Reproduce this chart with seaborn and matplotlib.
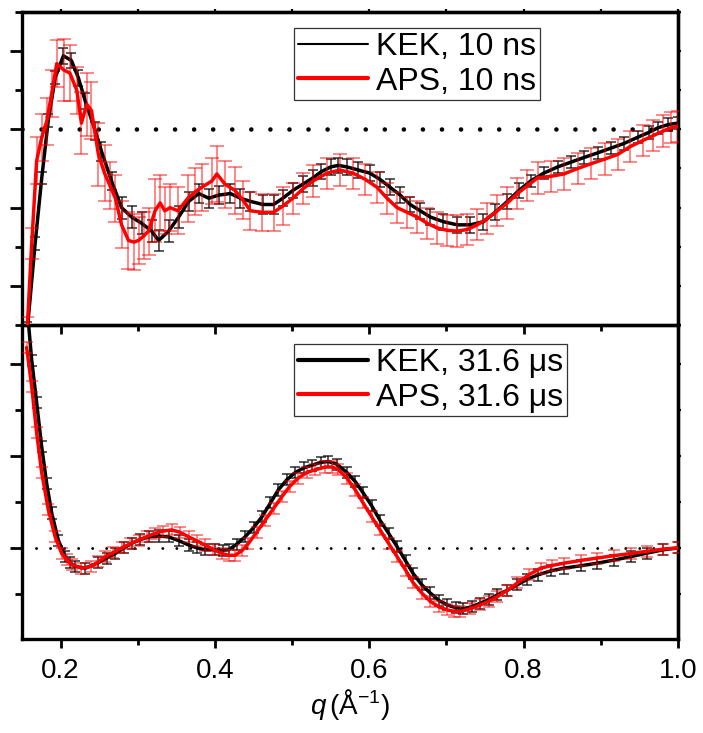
import matplotlib
matplotlib.use("Agg")
import numpy as np
import pandas as pd
import matplotlib.pyplot as plt
import seaborn as sns
from matplotlib.lines import Line2D
from matplotlib.ticker import MultipleLocator

# ---------------- data ----------------
# top panel, 10 ns
kek10_q = [0.157, 0.167, 0.1756, 0.184, 0.193, 0.2036, 0.214, 0.223, 0.232, 0.245, 0.253, 0.266,
           0.279, 0.292, 0.305, 0.318, 0.327, 0.34, 0.353, 0.366, 0.379, 0.392, 0.405, 0.42, 0.433,
           0.446, 0.462, 0.476, 0.488, 0.501, 0.514, 0.527, 0.538, 0.55, 0.56, 0.571, 0.586, 0.601,
           0.614, 0.627, 0.64, 0.653, 0.666, 0.679, 0.696, 0.714, 0.731, 0.748, 0.763, 0.779, 0.794,
           0.809, 0.826, 0.844, 0.861, 0.878, 0.896, 0.913, 0.93, 0.948, 0.962, 0.974, 0.987, 1.0]
kek10_y = [-1.27, -0.73, -0.31, 0.056, 0.33, 0.47, 0.44, 0.33, 0.18, -0.01, -0.14, -0.33,
           -0.50, -0.56, -0.60, -0.65, -0.71, -0.65, -0.56, -0.46, -0.41, -0.44, -0.42, -0.41, -0.44,
           -0.46, -0.48, -0.48, -0.44, -0.39, -0.35, -0.31, -0.27, -0.24, -0.23, -0.24, -0.26, -0.28,
           -0.32, -0.37, -0.42, -0.48, -0.52, -0.56, -0.59, -0.61, -0.61, -0.59, -0.53, -0.46, -0.39,
           -0.33, -0.28, -0.24, -0.21, -0.18, -0.15, -0.12, -0.09, -0.05, -0.02, 0.01, 0.03, 0.04]
kek10_err = [0.04, 0.04, 0.04, 0.04, 0.04, 0.05, 0.05, 0.05, 0.05, 0.06, 0.06, 0.06,
             0.07, 0.07, 0.07, 0.07, 0.07, 0.07, 0.07, 0.06, 0.06, 0.06, 0.06, 0.06, 0.06,
             0.06, 0.06, 0.06, 0.05, 0.05, 0.05, 0.05, 0.05, 0.05, 0.05, 0.05, 0.05, 0.05,
             0.05, 0.05, 0.05, 0.05, 0.05, 0.05, 0.05, 0.05, 0.05, 0.05, 0.05, 0.05, 0.05,
             0.04, 0.04, 0.04, 0.04, 0.04, 0.04, 0.04, 0.04, 0.04, 0.04, 0.04, 0.04, 0.04]

aps10_q = [0.157, 0.1626, 0.169, 0.1756, 0.182, 0.1885, 0.195, 0.204, 0.212, 0.221, 0.227, 0.234,
           0.24, 0.249, 0.257, 0.264, 0.271, 0.279, 0.288, 0.295, 0.301, 0.308, 0.314, 0.3225,
           0.329, 0.335, 0.342, 0.352, 0.365, 0.374, 0.383, 0.396, 0.4025, 0.413, 0.426, 0.436,
           0.446, 0.461, 0.476, 0.488, 0.501, 0.514, 0.527, 0.545, 0.562, 0.579, 0.595, 0.61,
           0.623, 0.636, 0.649, 0.662, 0.675, 0.688, 0.701, 0.714, 0.727, 0.74, 0.753, 0.766,
           0.779, 0.792, 0.805, 0.818, 0.835, 0.852, 0.87, 0.887, 0.905, 0.922, 0.938, 0.955,
           0.968, 0.981, 0.991, 1.0]
aps10_y = [-1.25, -0.73, -0.20, -0.05, 0.05, 0.23, 0.42, 0.38, 0.36, 0.25, 0.04, 0.16,
           0.12, -0.16, -0.28, -0.36, -0.44, -0.61, -0.71, -0.72, -0.71, -0.68, -0.65, -0.52,
           -0.47, -0.52, -0.50, -0.52, -0.44, -0.40, -0.37, -0.33, -0.285, -0.35, -0.39, -0.45,
           -0.52, -0.53, -0.53, -0.49, -0.44, -0.38, -0.33, -0.28, -0.26, -0.28, -0.32, -0.37,
           -0.44, -0.50, -0.53, -0.56, -0.60, -0.63, -0.645, -0.65, -0.64, -0.61, -0.57, -0.52,
           -0.47, -0.41, -0.36, -0.31, -0.30, -0.285, -0.25, -0.22, -0.19, -0.16, -0.11, -0.07,
           -0.04, -0.01, 0.01, 0.02]
aps10_err = [0.05, 0.10, 0.15, 0.15, 0.15, 0.15, 0.15, 0.20, 0.18, 0.15, 0.20, 0.20,
             0.18, 0.20, 0.18, 0.15, 0.15, 0.15, 0.18, 0.18, 0.15, 0.15, 0.15, 0.20,
             0.18, 0.15, 0.15, 0.15, 0.15, 0.15, 0.15, 0.15, 0.18, 0.15, 0.15, 0.12,
             0.12, 0.12, 0.12, 0.12, 0.10, 0.10, 0.10, 0.10, 0.10, 0.10, 0.10, 0.10,
             0.10, 0.10, 0.10, 0.10, 0.10, 0.10, 0.10, 0.10, 0.10, 0.10, 0.10, 0.10,
             0.10, 0.10, 0.10, 0.10, 0.10, 0.10, 0.10, 0.10, 0.10, 0.10, 0.10, 0.10,
             0.10, 0.10, 0.10, 0.10]

# bottom panel, 31.6 us
kek31_q = [0.158, 0.1626, 0.169, 0.1755, 0.182, 0.1885, 0.197, 0.2058, 0.212, 0.219, 0.232, 0.249,
           0.26, 0.271, 0.282, 0.292, 0.303, 0.314, 0.327, 0.34, 0.353, 0.366, 0.377, 0.387, 0.40,
           0.41, 0.418, 0.428, 0.439, 0.45, 0.461, 0.472, 0.482, 0.493, 0.504, 0.515, 0.526, 0.537,
           0.547, 0.558, 0.571, 0.582, 0.592, 0.603, 0.614, 0.625, 0.636, 0.647, 0.657, 0.668,
           0.679, 0.69, 0.701, 0.712, 0.722, 0.733, 0.744, 0.755, 0.766, 0.779, 0.792, 0.805,
           0.818, 0.835, 0.852, 0.874, 0.895, 0.917, 0.939, 0.96, 0.981, 1.0]
kek31_y = [1.24, 1.02, 0.79, 0.55, 0.35, 0.19, 0.043, -0.047, -0.08, -0.10, -0.11, -0.08,
           -0.055, -0.03, 0.0, 0.025, 0.045, 0.06, 0.065, 0.06, 0.04, 0.016, 0.0, -0.01, -0.01,
           -0.012, -0.01, 0.02, 0.06, 0.11, 0.17, 0.245, 0.315, 0.37, 0.41, 0.435, 0.45, 0.465,
           0.47, 0.455, 0.41, 0.36, 0.30, 0.23, 0.15, 0.08, 0.007, -0.07, -0.14, -0.20,
           -0.245, -0.285, -0.31, -0.325, -0.33, -0.32, -0.30, -0.28, -0.255, -0.23, -0.20, -0.17,
           -0.147, -0.125, -0.11, -0.097, -0.083, -0.066, -0.047, -0.028, -0.01, 0.0]
kek31_err = [0.03] * len(kek31_q)

aps31_q = [0.156, 0.1626, 0.169, 0.1755, 0.184, 0.193, 0.2015, 0.208, 0.2145, 0.227, 0.24, 0.249,
           0.258, 0.268, 0.279, 0.29, 0.301, 0.312, 0.3225, 0.333, 0.344, 0.355, 0.366, 0.377,
           0.387, 0.398, 0.409, 0.418, 0.426, 0.435, 0.4435, 0.454, 0.465, 0.476, 0.487, 0.497,
           0.508, 0.519, 0.53, 0.543, 0.552, 0.56, 0.571, 0.582, 0.592, 0.603, 0.614, 0.625,
           0.636, 0.647, 0.657, 0.668, 0.679, 0.69, 0.701, 0.71, 0.718, 0.731, 0.744, 0.755,
           0.766, 0.779, 0.792, 0.807, 0.822, 0.837, 0.852, 0.874, 0.895, 0.917, 0.939, 0.96,
           0.981, 1.0]
aps31_y = [1.09, 0.877, 0.625, 0.41, 0.21, 0.06, -0.03, -0.065, -0.09, -0.11, -0.10, -0.075,
           -0.047, -0.025, 0.0, 0.022, 0.043, 0.062, 0.08, 0.092, 0.098, 0.085, 0.06, 0.038,
           0.016, -0.008, -0.03, -0.04, -0.04, -0.015, 0.025, 0.085, 0.15, 0.215, 0.28, 0.335,
           0.38, 0.41, 0.425, 0.44, 0.44, 0.425, 0.38, 0.315, 0.245, 0.17, 0.098, 0.025,
           -0.047, -0.12, -0.19, -0.245, -0.29, -0.32, -0.337, -0.345, -0.346, -0.33, -0.31, -0.29,
           -0.265, -0.23, -0.19, -0.145, -0.11, -0.095, -0.083, -0.068, -0.055, -0.042, -0.03, -0.018,
           -0.006, 0.0]
aps31_err = [0.03] * len(aps31_q)

labels_top = ["KEK, 10 ns", "APS, 10 ns"]
labels_bot = ["KEK, 31.6 \u03bcs", "APS, 31.6 \u03bcs"]
xticks = [0.2, 0.4, 0.6, 0.8, 1.0]
xticklabels = ["0.2", "0.4", "0.6", "0.8", "1.0"]

# ---------------- style ----------------
sns.set_theme(style="white")
plt.rcParams["font.family"] = ["Liberation Sans", "DejaVu Sans"]
plt.rcParams["mathtext.fontset"] = "custom"
plt.rcParams["mathtext.rm"] = "Liberation Sans"
plt.rcParams["mathtext.it"] = "Liberation Sans:italic"
plt.rcParams["text.color"] = "black"
plt.rcParams["axes.labelcolor"] = "black"
plt.rcParams["xtick.color"] = "black"
plt.rcParams["ytick.color"] = "black"
plt.rcParams["xtick.labelcolor"] = "black"

fig = plt.figure(figsize=(7.03, 7.33), dpi=100)
fig.patch.set_facecolor("white")
ax2 = fig.add_axes([0.03129, 0.12824, 0.9331, 0.42838])
ax1 = fig.add_axes([0.03129, 0.55662, 0.9331, 0.42701])
for a in (ax1, ax2):
    a.patch.set_alpha(0)

SP_LW = 2.4
black_e = (0, 0, 0, 0.75)
red_e = (1, 0, 0, 0.55)


def draw(ax, q1, y1, e1, q2, y2, e2, cap_k, cap_r):
    ax.errorbar(q1, y1, yerr=e1, fmt="none", ecolor=black_e, elinewidth=1.2,
                capsize=cap_k, capthick=1.2, zorder=2)
    sns.lineplot(x=q1, y=y1, color="black", lw=2.5, sort=False, errorbar=None, ax=ax, zorder=3)
    ax.errorbar(q2, y2, yerr=e2, fmt="none", ecolor=red_e, elinewidth=1.2,
                capsize=cap_r, capthick=1.2, zorder=4)
    sns.lineplot(x=q2, y=y2, color="red", lw=2.5, sort=False, errorbar=None, ax=ax, zorder=5)


draw(ax1, kek10_q, kek10_y, kek10_err, aps10_q, aps10_y, aps10_err, 3.6, 4.8)
draw(ax2, kek31_q, kek31_y, kek31_err, aps31_q, aps31_y, aps31_err, 3.6, 4.0)

ax1.axhline(0, color="black", lw=3.3, linestyle=(0, (0.01, 4.15)),
            dash_capstyle="round", zorder=1)
ax2.axhline(0, color="black", lw=2.1, linestyle=(0, (0.01, 4.8)),
            dash_capstyle="round", zorder=1)

ax1.set_xlim(0.15, 1.0)
ax2.set_xlim(0.15, 1.0)
ax1.set_ylim(-1.25, 0.75)
ax2.set_ylim(-0.495, 1.212)

for a in (ax1, ax2):
    for s in a.spines.values():
        s.set_visible(True)
        s.set_linewidth(SP_LW)
        s.set_color("black")
    a.set_xlabel("")
    a.set_ylabel("")
    a.xaxis.set_major_locator(MultipleLocator(0.2))
    a.xaxis.set_minor_locator(MultipleLocator(0.1))
    a.yaxis.set_major_locator(MultipleLocator(0.5))
    a.yaxis.set_minor_locator(MultipleLocator(0.25))
    a.tick_params(axis="y", which="major", direction="out", left=True, right=False,
                  length=8.6, width=2.0, labelleft=False, color="black")
    a.tick_params(axis="y", which="minor", direction="out", left=True, right=False,
                  length=5.0, width=2.0, color="black")
    a.tick_params(axis="x", which="major", direction="out", bottom=True, top=False,
                  length=6.5, width=2.0, color="black")
    a.tick_params(axis="x", which="minor", direction="out", bottom=True, top=False,
                  length=4.0, width=2.0, color="black")
    # short ticks on the right side
    sec = a.secondary_yaxis("right")
    sec.yaxis.set_major_locator(MultipleLocator(0.25))
    sec.tick_params(direction="out", length=2.5, width=1.6, labelright=False, color="black")
    sec.spines["right"].set_linewidth(SP_LW)

secx = ax1.secondary_xaxis("top")
secx.xaxis.set_major_locator(MultipleLocator(0.1))
secx.tick_params(direction="out", length=2.5, width=1.6, labeltop=False, color="black")
secx.spines["top"].set_linewidth(SP_LW)

ax1.tick_params(axis="x", labelbottom=False)
ax2.set_xticks(xticks)
ax2.set_xticklabels(xticklabels)
ax2.tick_params(axis="x", which="major", labelsize=20, pad=7, labelcolor="black")
ax2.set_xlabel(r"$q\,$(Å$^{\mathregular{-1}}$)", fontsize=20, labelpad=2, color="black")

# legends
h_top = [Line2D([], [], color="black", lw=1.5), Line2D([], [], color="red", lw=3.0)]
h_bot = [Line2D([], [], color="black", lw=3.0), Line2D([], [], color="red", lw=3.0)]
leg_kw = dict(fontsize=23, frameon=True, fancybox=False, loc="upper left",
              borderaxespad=0, handlelength=2.2, handletextpad=0.25, labelspacing=0.15,
              borderpad=0.12, framealpha=1, labelcolor="black")
l1 = ax1.legend(h_top, labels_top, bbox_to_anchor=(0.415, 0.949), **leg_kw)
l2 = ax2.legend(h_bot, labels_bot, bbox_to_anchor=(0.415, 0.9395), **leg_kw)
for lg in (l1, l2):
    lg.get_frame().set_edgecolor("#333333")
    lg.get_frame().set_linewidth(0.9)
    lg.set_zorder(10)

fig.savefig("out.png", dpi=100, facecolor="white")
